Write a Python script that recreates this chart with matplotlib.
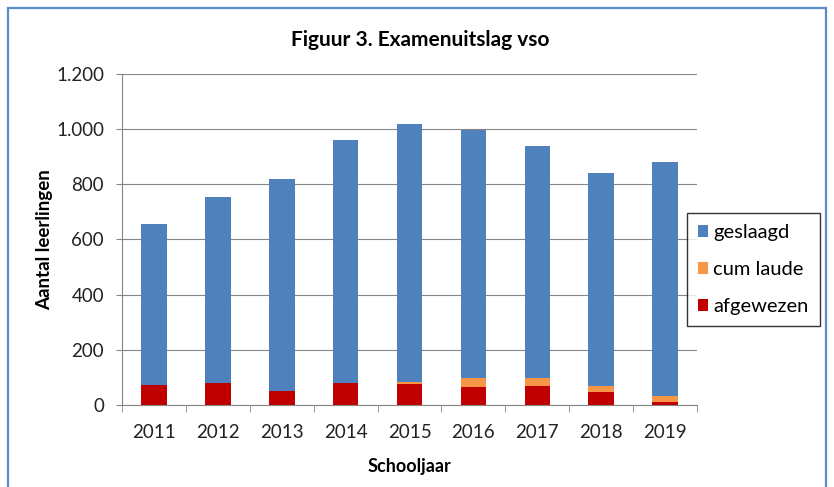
import numpy as np
import matplotlib
matplotlib.use("Agg")
import matplotlib.pyplot as plt
from matplotlib.patches import Rectangle
from matplotlib.ticker import FuncFormatter

years = ["2011", "2012", "2013", "2014", "2015", "2016", "2017", "2018", "2019"]
afgewezen = [72, 79, 51, 81, 76, 66, 70, 46, 12]
cum_laude = [0, 0, 0, 0, 6, 31, 27, 22, 22]
geslaagd = [584, 675, 768, 880, 937, 900, 842, 773, 847]

blue = "#4F81BD"
orange = "#F79646"
red = "#C00000"
grey = "#868686"

plt.rcParams['font.family'] = ['Lato', 'DejaVu Sans']

fig = plt.figure(figsize=(8.34, 4.87), dpi=100)
ax = fig.add_axes([122 / 834, 1 - 405 / 487, 575 / 834, 331 / 487])

x = np.arange(len(years))
w = 0.4
b1 = ax.bar(x, afgewezen, w, color=red, label="afgewezen", zorder=3)
b2 = ax.bar(x, cum_laude, w, bottom=afgewezen, color=orange, label="cum laude", zorder=3)
base = np.array(afgewezen) + np.array(cum_laude)
b3 = ax.bar(x, geslaagd, w, bottom=base, color=blue, label="geslaagd", zorder=3)

ax.set_xlim(-0.5, len(years) - 0.5)
ax.set_ylim(0, 1200)
ax.set_yticks(np.arange(0, 1201, 200))
ax.yaxis.set_major_formatter(FuncFormatter(lambda v, p: f"{int(v):,}".replace(",", ".")))
ax.set_xticks(x)
ax.set_xticklabels(years)
# category separators on the x axis
ax.set_xticks(np.arange(-0.5, len(years), 1), minor=True)
ax.tick_params(axis='x', which='major', length=0, pad=14, labelsize=13.5, labelcolor='#222222')
ax.tick_params(axis='x', which='minor', length=5, color=grey, direction='out')
ax.tick_params(axis='y', length=4, color=grey, labelsize=13.5, pad=9, labelcolor='#222222')

ax.grid(axis='y', color=grey, linewidth=0.8, zorder=0)
for s in ['top', 'right']:
    ax.spines[s].set_visible(False)
for s in ['left', 'bottom']:
    ax.spines[s].set_color(grey)
    ax.spines[s].set_zorder(4)

ax.set_ylabel("Aantal leerlingen", fontsize=13.5, fontweight='bold', labelpad=2)
ax.set_xlabel("Schooljaar", fontsize=13, fontweight='bold', labelpad=12)
fig.text(420 / 834, 1 - 40 / 487, "Figuur 3. Examenuitslag vso", ha='center', va='center',
         fontsize=15, fontweight='bold')

leg = fig.legend(handles=[b3, b2, b1], loc='upper left',
                 bbox_to_anchor=(687 / 834, 1 - 213 / 487), frameon=True, fancybox=False,
                 fontsize=14.5, handlelength=0.5, handleheight=0.5, handletextpad=0.25,
                 labelspacing=1.0, borderpad=0.55, borderaxespad=0, edgecolor='black')
leg.get_frame().set_linewidth(1.0)

# blue chart-area border (bottom edge falls outside the image)
fig.patches.append(Rectangle((8 / 834, -0.05), 818 / 834, 1.05 - 8 / 487, transform=fig.transFigure,
                             fill=False, edgecolor="#5B8BC9", linewidth=1.6))

fig.savefig("out.png", dpi=100)
